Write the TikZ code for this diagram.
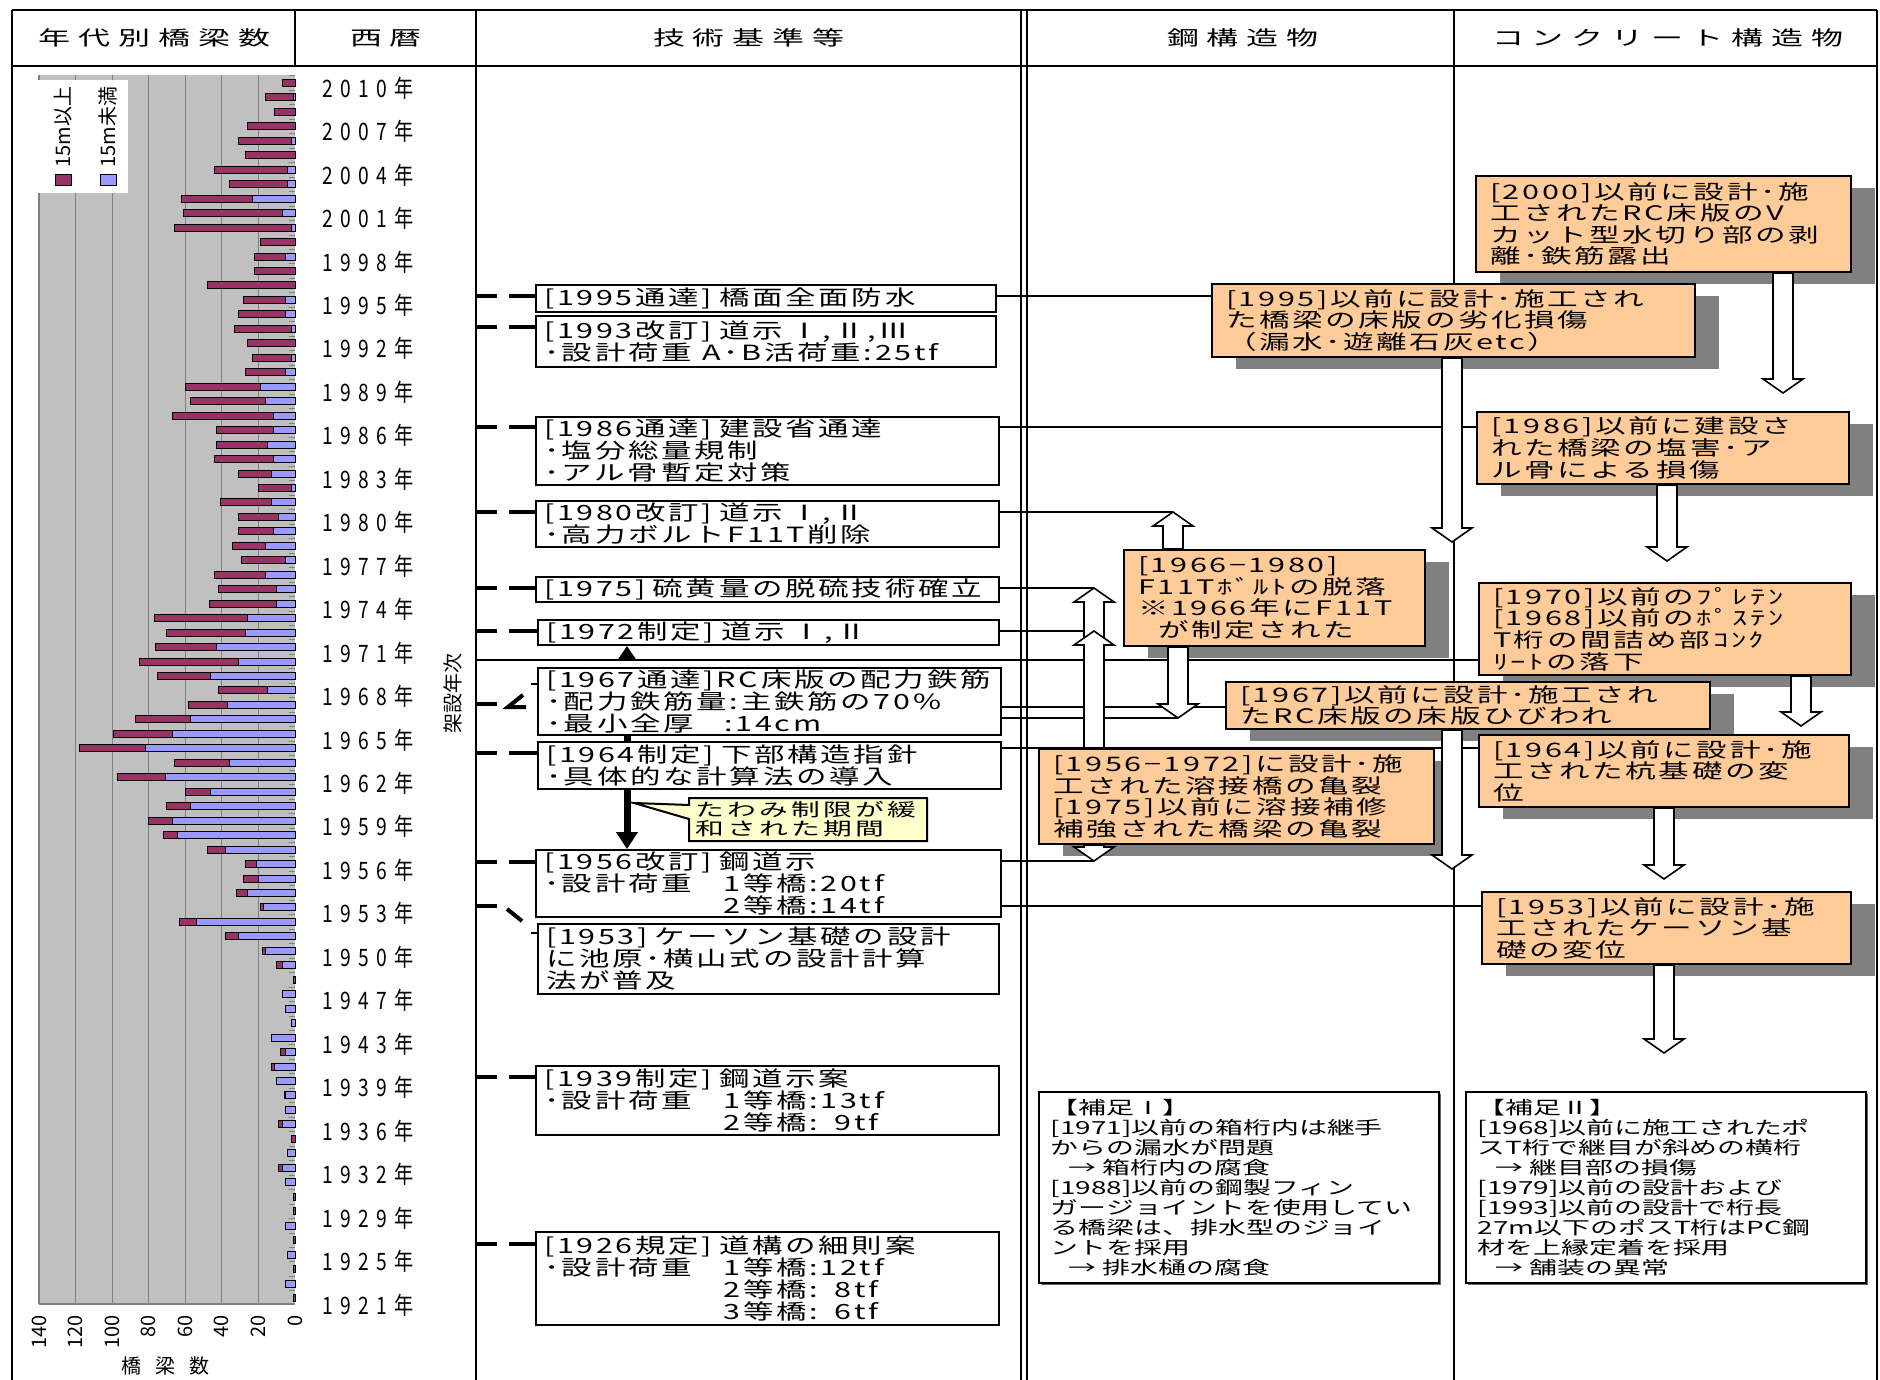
\documentclass[tikz,border=0pt]{standalone}
\usepackage{fontspec}
\setmainfont{Noto Sans CJK JP}
\newfontfamily\headfont[FakeStretch=1.6,LetterSpace=40]{Noto Sans CJK JP}
\newfontfamily\techfont[FakeStretch=1.45,LetterSpace=13]{Noto Sans CJK JP}
\newfontfamily\dmgfont[FakeStretch=1.53,LetterSpace=13]{Noto Sans CJK JP}
\newfontfamily\notefont[FakeStretch=1.55]{Noto Sans CJK JP}
\newfontfamily\memofont[FakeStretch=1.6,LetterSpace=18]{Noto Sans CJK JP}
\newfontfamily\yearfont[FakeStretch=0.8,LetterSpace=31]{Noto Sans CJK JP}
\usetikzlibrary{arrows.meta,calc,shadows,shapes.callouts}

\newcommand\headtext{\headfont\fontsize{10pt}{12pt}\selectfont}
\newcommand\techtext{\techfont\fontsize{10.5pt}{11pt}\selectfont}
\newcommand\dmgtext{\dmgfont\fontsize{10pt}{10.8pt}\selectfont}
\newcommand\notetext{\notefont\fontsize{9pt}{10pt}\selectfont}
\newcommand\memotext{\memofont\fontsize{9pt}{9.5pt}\selectfont}
\newcommand\yeartext{\yearfont\fontsize{12pt}{14pt}\selectfont}
\newcommand\sidetext{\fontsize{10pt}{12pt}\selectfont}

\definecolor{dmgfill}{HTML}{FFCC99}
\definecolor{shadowgray}{HTML}{808080}
\definecolor{chartbg}{HTML}{C0C0C0}
\definecolor{gridgray}{HTML}{808080}
\definecolor{longspan}{HTML}{993366}
\definecolor{shortspan}{HTML}{9999FF}
\definecolor{memofill}{HTML}{FFFFCC}

\pgfdeclarelayer{back}
\pgfsetlayers{back,main}

\begin{document}
\begin{tikzpicture}[x=0.5pt, y=-0.5pt,
    frame/.style={line width=1.3pt},
    yrdash/.style={line width=2pt, dash pattern=on 10.5pt off 6pt on 20pt off 1pt},
    notch/.style={line width=2pt},
    link/.style={line width=0.8pt},
    bar/.style={draw=black, line width=0.5pt},
    heavy/.style={line width=3.5pt},
    tech/.style={draw, line width=1pt, fill=white, anchor=north west, inner xsep=4pt, inner ysep=0.3pt,
        align=left, font=\techtext, text width=#1},
    dmg/.style={draw, line width=1pt, fill=dmgfill, anchor=north west, inner xsep=7pt, inner ysep=0pt,
        align=left, font=\dmgtext, text width=#1,
        drop shadow={shadow xshift=12pt, shadow yshift=-6pt, fill=shadowgray, opacity=1}},
    note/.style={draw, line width=0.9pt, fill=white, anchor=north west, inner xsep=6pt, inner ysep=2pt,
        align=left, font=\notetext, text width=188pt, minimum height=95.5pt,
        drop shadow={shadow xshift=1.2pt, shadow yshift=-1.2pt, fill=black!60, opacity=1}},
    memo/.style={rectangle callout, draw, line width=1pt, fill=memofill, anchor=north west,
        inner xsep=3pt, inner ysep=1pt, align=left, font=\memotext, text width=113pt,
        minimum height=21.5pt, callout pointer width=7pt},
    downarr/.style={draw, fill=white, line width=0.8pt,
        to path={let \p1=(\tikztostart), \p2=(\tikztotarget) in
            (\x2-5pt,\y1) -- (\x2-5pt,\y2+7pt) -- (\x2-10pt,\y2+7pt) -- (\x2,\y2)
            -- (\x2+10pt,\y2+7pt) -- (\x2+5pt,\y2+7pt) -- (\x2+5pt,\y1) -- cycle}},
    uparr/.style={draw, fill=white, line width=0.8pt,
        to path={let \p1=(\tikztostart), \p2=(\tikztotarget) in
            (\x2-5pt,\y1) -- (\x2-5pt,\y2-7pt) -- (\x2-10pt,\y2-7pt) -- (\x2,\y2)
            -- (\x2+10pt,\y2-7pt) -- (\x2+5pt,\y2-7pt) -- (\x2+5pt,\y1) -- cycle}}
]
\useasboundingbox (0,0) rectangle (1880,1380);

% column headers
\node[font=\headtext] (hdcount) at (155,38) {年代別橋梁数};
\node[font=\headtext] (hdyear) at (386,38) {西暦};
\node[font=\headtext] (hdcode) at (749,38) {技術基準等};
\node[font=\headtext] (hdsteel) at (1243,38) {鋼構造物};
\node[font=\headtext] (hdconc) at (1668,38) {コンクリート構造物};

% bridge counts per year
\node[fill=white, inner sep=0, minimum width=45.5pt, minimum height=56.5pt, anchor=north west] (legend) at (37,80) {};
\draw[bar, fill=longspan] (55,175) rectangle (71,186);
\draw[bar, fill=shortspan] (100,175) rectangle (116,186);
\node[rotate=90, anchor=west, inner sep=1pt, font=\sidetext] (lglong) at (63,170) {15m以上};
\node[rotate=90, anchor=west, inner sep=1pt, font=\sidetext] (lgshort) at (108,170) {15m未満};
\foreach \v [count=\k from 0] in {0,20,...,140}
    \node[rotate=90, anchor=east, inner sep=1pt, font=\sidetext] (ax\v) at ({295-\k*36.57},1313) {\v};
\node[font=\sidetext] (axname) at (165,1366) {橋\hspace{7pt}梁\hspace{7pt}数};

% years
\foreach \yr [count=\k from 0] in {2010,2007,2004,2001,1998,1995,1992,1989,1986,1983,1980,1977,1974,1971,1968,
    1965,1962,1959,1956,1953,1950,1947,1943,1939,1936,1932,1929,1925,1921}
    \node[font=\yeartext] (yr\yr) at (368,{88+\k*43.46}) {\yr 年};
\node[rotate=90, font=\sidetext] (side) at (453,693) {架設年次};

% technical standards
\node[tech=222pt, minimum height=13.5pt] (A) at (535,284) {[1995通達]~橋面全面防水};
\node[tech=222pt, minimum height=25.5pt] (B) at (535,315) {[1993改訂]~道示~Ⅰ,Ⅱ,Ⅲ\\･設計荷重\enspace A･B活荷重:25tf};
\node[tech=223.5pt, minimum height=34pt] (C) at (535,416) {[1986通達]~建設省通達\\･塩分総量規制\\･アル骨暫定対策};
\node[tech=223.5pt, minimum height=23pt] (D) at (535,500) {[1980改訂]~道示~Ⅰ,Ⅱ\\･高力ボルトF11T削除};
\node[tech=223.5pt, minimum height=12.5pt] (E) at (535,576) {[1975]~硫黄量の脱硫技術確立};
\node[tech=222.5pt, minimum height=12.5pt] (F) at (537,619) {[1972制定]~道示~Ⅰ,Ⅱ};
\node[tech=223.5pt, minimum height=33.5pt] (G) at (537,667) {[1967通達]RC床版の配力鉄筋\\･配力鉄筋量:主鉄筋の70\%\\･最小全厚\phantom{量}:14cm};
\node[tech=223.5pt, minimum height=23.5pt] (H) at (537,741) {[1964制定]~下部構造指針\\･具体的な計算法の導入};
\node[tech=224.5pt, minimum height=33.5pt] (J) at (535,849) {[1956改訂]~鋼道示\\･設計荷重\quad\enspace 1等橋:20tf\\\phantom{･設計荷重\quad\enspace }2等橋:14tf};
\node[tech=222.5pt, minimum height=35pt] (K) at (537,923) {[1953]~ケーソン基礎の設計\\に池原･横山式の設計計算\\法が普及};
\node[tech=223.5pt, minimum height=34.5pt] (L) at (535,1065) {[1939制定]~鋼道示案\\･設計荷重\quad\enspace 1等橋:13tf\\\phantom{･設計荷重\quad\enspace }2等橋:\phantom{1}9tf};
\node[tech=223.5pt, minimum height=46.5pt] (M) at (535,1231) {[1926規定]~道構の細則案\\･設計荷重\quad\enspace 1等橋:12tf\\\phantom{･設計荷重\quad\enspace }2等橋:\phantom{1}8tf\\\phantom{･設計荷重\quad\enspace }3等橋:\phantom{1}6tf};
\node[memo, callout absolute pointer={(634,803)}] (relax) at (688,797) {たわみ制限が緩\\和された期間};

% damage cases
\node[dmg=173.5pt, minimum height=48pt] (O1) at (1475,175) {[2000]以前に設計･施\\工されたRC床版のV\\カット型水切り部の剥\\離･鉄筋露出};
\node[dmg=227.5pt, minimum height=36.5pt] (O2) at (1211,283) {[1995]以前に設計･施工され\\た橋梁の床版の劣化損傷\\（漏水･遊離石灰etc）};
\node[dmg=172pt, minimum height=36pt] (O3) at (1476,411) {[1986]以前に建設さ\\れた橋梁の塩害･ア\\ル骨による損傷};
\node[dmg=136.5pt, minimum height=48pt] (O4) at (1123,549) {[1966−1980]\\F11Tﾎﾞﾙﾄの脱落\\※1966年にF11T\\\hspace*{1em}が制定された};
\node[dmg=172pt, minimum height=46pt] (O5) at (1478,582) {[1970]以前のﾌﾟﾚﾃﾝ\\{}[1968]以前のﾎﾟｽﾃﾝ\\T桁の間詰め部ｺﾝｸ\\ﾘｰﾄの落下};
\node[dmg=228pt, minimum height=23.5pt] (O6) at (1225,681) {[1967]以前に設計･施工され\\たRC床版の床版ひびわれ};
\node[dmg=171pt, minimum height=36pt] (O7) at (1478,734) {[1964]以前に設計･施\\工された杭基礎の変\\位};
\node[dmg=183.5pt, minimum height=47.5pt] (O8) at (1038,748) {[1956−1972]に設計･施\\工された溶接橋の亀裂\\{}[1975]以前に溶接補修\\補強された橋梁の亀裂};
\node[dmg=170.5pt, minimum height=36pt] (O9) at (1481,891) {[1953]以前に設計･施\\工されたケーソン基\\礎の変位};

% notes
\node[note] (note1) at (1038,1091) {【補足Ⅰ】\\{}[1971]以前の箱桁内は継手\\からの漏水が問題\\\hspace*{1em}→~箱桁内の腐食\\{}[1988]以前の鋼製フィン\\ガージョイントを使用してい\\る橋梁は、排水型のジョイ\\ントを採用\\\hspace*{1em}→~排水樋の腐食};
\node[note] (note2) at (1465,1091) {【補足Ⅱ】\\{}[1968]以前に施工されたポ\\スT桁で継目が斜めの横桁\\\hspace*{1em}→~継目部の損傷\\{}[1979]以前の設計および\\{}[1993]以前の設計で桁長\\27m以下のポスT桁はPC鋼\\材を上縁定着を採用\\\hspace*{1em}→~舗装の異常};

% arrow tips
\coordinate (tipD) at (1173,512);
\coordinate (tipE) at (1094,588);
\coordinate (tipF) at (1094,631);
\coordinate (tipG) at (1178,718);
\coordinate (tipJ) at (1094,861);
\coordinate (c1) at (1783,393);
\coordinate (c2) at (1452,542);
\coordinate (c3) at (1667,561);
\coordinate (c5) at (1801,726);
\coordinate (c6) at (1452,869);
\coordinate (c7) at (1664,879);
\coordinate (c9) at (1664,1053);

\draw[downarr] (O1.south -| c1) to (c1);
\draw[downarr] (O2.south -| c2) to (c2);
\draw[downarr] (O3.south -| c3) to (c3);
\draw[uparr] (O4.north -| tipD) to (tipD);
\draw[downarr] (O4.south -| tipG) to (tipG);
\draw[uparr] (O8.north -| tipE) to (tipE);
\draw[uparr] (O8.north -| tipF) to (tipF);
\draw[downarr] (O8.south -| tipJ) to (tipJ);
\draw[downarr] (O5.south -| c5) to (c5);
\draw[downarr] (O6.south -| c6) to (c6);
\draw[downarr] (O7.south -| c7) to (c7);
\draw[downarr] (O9.south -| c9) to (c9);

\draw[heavy] (G.south -| 627,0) -- (H.north -| 627,0);
\draw[heavy, -{Triangle[length=8.5pt,width=10.5pt]}] (H.south -| 627,0) -- (J.north -| 627,0);
\draw[heavy, -{Triangle[length=7pt,width=9pt]}] (627,661) -- (F.south -| 627,0);

\begin{pgfonlayer}{back}
\fill[white] (0,0) rectangle (1880,1380);
% chart
\fill[chartbg] (39,75) rectangle (295,1304);
\foreach \g in {0,...,6}
    \draw[gridgray, line width=0.6pt] ({39+\g*36.57},75) -- ({39+\g*36.57},1304);
\draw[gridgray, line width=0.6pt] (39,1304) -- (295,1304);
\foreach \i in {0,...,84}
    \draw[gridgray, line width=0.4pt] (289,{75.8+\i*14.464}) -- (295,{75.8+\i*14.464});
\foreach \vs/\vl [count=\i from 0] in {0/7,1/15,0/11,0/26,2/29,0/27,4/40,4/32,23/39,7/54,
    2/64,0/19,5/17,0/22,0/48,5/23,5/26,2/31,0/26,2/21,
    5/22,19/41,16/41,12/55,12/31,15/28,12/32,13/18,2/18,13/28,
    9/22,12/19,16/18,5/24,16/28,10/32,10/37,26/51,27/43,43/33,
    31/54,46/29,15/27,37/21,57/30,67/32,82/36,36/30,71/26,46/14,
    57/13,67/13,64/8,38/10,21/6,20/8,26/6,17/2,54/9,31/7,
    16/2,7/3,0/1,7/0,5/0,2/0,13/0,5/3,11/2,10/0,
    5/1,5/0,7/2,0/2,4/0,7/2,5/0,0/1,0/1,5/0,
    0/1,4/0,0/1,5/0,0/1} {
    \pgfmathsetmacro\yc{83+\i*14.464}
    \pgfmathsetmacro\xb{295-\vs*1.829}
    \pgfmathsetmacro\xm{\xb-\vl*1.829}
    \ifnum\vs>0 \draw[bar, fill=shortspan] (295,{\yc-3.5}) rectangle (\xb,{\yc+3.5}); \fi
    \ifnum\vl>0 \draw[bar, fill=longspan] (\xb,{\yc-3.5}) rectangle (\xm,{\yc+3.5}); \fi
}
% table frame
\draw[frame] (12,10) -- (1877,10);
\draw[frame] (12,66) -- (1877,66);
\foreach \x in {12,476,1454,1877}
    \draw[frame] (\x,10) -- (\x,1380);
\draw[frame] (295,10) -- (295,66);
\draw[line width=1pt] (1021,10) -- (1021,1380);
\draw[line width=1pt] (1027,10) -- (1027,1380);
% year marks
\foreach \nd/\yy in {A/296,B/327,C/427,D/512,E/588,F/631,H/753,J/862,L/1077,M/1244}
    \draw[yrdash] (476,\yy) -- (\nd.west |- 0,\yy);
\draw[notch] (476,704) -- (497,704);
\draw[notch] (526,707) -- (508,707) -- (523,695);
\draw[link] (531,684) -- (G.west |- 0,684);
\draw[notch] (476,906) -- (497,906);
\draw[notch] (507,909) -- (522,921);
\draw[link] (531,933) -- (K.west |- 0,933);
% links to damage cases
\draw[link] (A.east |- 0,296) -- (O2.west |- 0,296);
\draw[link] (C.east |- 0,427) -- (O3.west |- 0,427);
\draw[link] (D.east |- tipD) -- (tipD);
\draw[link] (E.east |- tipE) -- (tipE);
\draw[link] (F.east |- tipF) -- (tipF);
\draw[link] (476,660) -- (O5.west |- 0,660);
\draw[link] (G.east |- 0,707) -- (O6.west |- 0,707);
\draw[link] (G.east |- tipG) -- (tipG);
\draw[link] (H.east |- 0,748) -- (O7.west |- 0,748);
\draw[link] (J.east |- tipJ) -- (tipJ);
\draw[link] (J.east |- 0,906) -- (O9.west |- 0,906);
\end{pgfonlayer}
\end{tikzpicture}
\end{document}
